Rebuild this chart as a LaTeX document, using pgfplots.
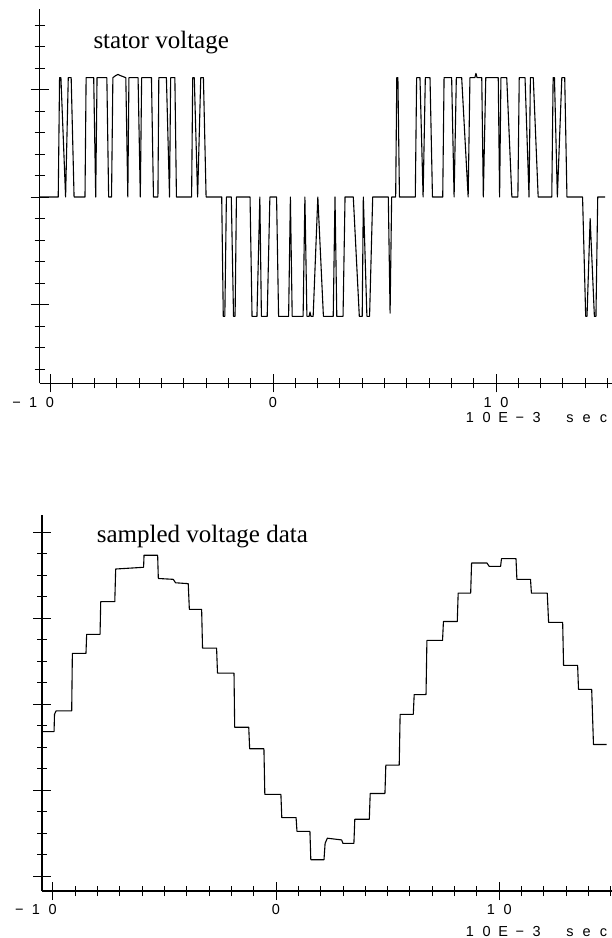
\documentclass[border=0pt]{standalone}
\usepackage{fontspec}
\setmainfont{Liberation Serif}
\newfontfamily\plotfont{Liberation Sans}
\usepackage{pgfplots}
\pgfplotsset{compat=1.18}
\newcommand\pc[1]{\makebox[16.7pt]{#1}}
\pgfplotsset{
  scopeplot/.style={
    scale only axis,
    axis x line=bottom, axis y line=left,
    axis line style={-, line width=1.3pt},
    tick align=center,
    major tick length=18pt,
    minor tick length=10pt,
    every tick/.style={line width=0.9pt, black},
    xtick={-10,0,10},
    xticklabels={\llap{\pc{−}\pc{1}}\pc{0}, \pc{0}, \pc{1}\pc{0}},
    minor xtick={-9,-8,...,15},
    xticklabel style={font=\fontsize{14.5}{14.5}\plotfont, anchor=center, inner sep=0pt, yshift=-9.7pt},
    yticklabels={},
    clip=false,
  },
  wave/.style={black, line width=1.1pt, sharp plot, line join=round},
}
\begin{document}
\begin{tikzpicture}
\useasboundingbox (0pt,0pt) rectangle (612pt,-938pt);
% ---------- top: stator voltage ----------
\begin{axis}[scopeplot,
  at={(39.5pt,-383.3pt)}, anchor=south west,
  width=572.5pt, height=374pt,
  xmin=-10.47, xmax=15.2, ymin=-1.733, ymax=1.746,
  ytick={-1,0,1},
  minor ytick={-1.6,-1.4,-1.2,-0.8,-0.6,-0.4,-0.2,0.2,0.4,0.6,0.8,1.2,1.4,1.6},
]
\addplot[wave] coordinates {
(-10.47,0) (-9.63,0) (-9.57,1.11) (-9.51,1.11) (-9.30,0) (-9.18,1.11) (-9.05,1.11) (-8.92,0)
(-8.43,0) (-8.38,1.11) (-8.04,1.11) (-7.95,0) (-7.89,1.11) (-7.45,1.11) (-7.37,0) (-7.24,0)
(-7.18,1.11) (-7.05,1.13) (-6.95,1.14) (-6.85,1.13) (-6.60,1.11) (-6.51,0) (-6.46,1.11)
(-6.05,1.11) (-5.95,0) (-5.89,1.11) (-5.45,1.11) (-5.36,0) (-5.16,0) (-5.12,1.11) (-4.78,1.11)
(-4.64,0) (-4.59,1.11) (-4.40,1.11) (-4.33,0) (-3.65,0) (-3.60,1.11) (-3.53,1.11) (-3.38,0)
(-3.24,1.11) (-3.12,1.11) (-3.00,0) (-2.30,0)
(-2.23,-1.11) (-2.16,-1.11) (-2.09,0) (-1.87,0) (-1.77,-1.11) (-1.70,-1.11) (-1.64,0) (-1.03,0)
(-0.94,-1.11) (-0.72,-1.11) (-0.59,0) (-0.52,-1.11) (-0.26,-1.11) (-0.14,0) (0.16,0)
(0.25,-1.11) (0.70,-1.11) (0.78,0) (0.86,-1.11) (1.35,-1.11) (1.43,0) (1.52,-1.11) (1.62,-1.11)
(1.66,-1.07) (1.70,-1.11) (1.80,-1.11) (2.01,0) (2.26,-1.11) (2.70,-1.11) (2.78,0) (2.86,-1.11)
(3.14,-1.11) (3.23,0) (3.60,0) (3.87,-1.11) (4.00,-1.11) (4.05,0) (4.21,-1.11) (4.33,-1.11)
(4.47,0) (5.17,0) (5.25,-1.08) (5.32,0) (5.50,0)
(5.55,1.11) (5.60,1.11) (5.67,0) (6.38,0) (6.44,1.11) (6.59,1.11) (6.73,0) (6.83,1.11)
(7.04,1.11) (7.15,0) (7.61,0) (7.67,1.11) (8.01,1.11) (8.12,0) (8.22,1.11) (8.46,1.11) (8.75,0)
(8.83,1.11) (9.05,1.11) (9.10,1.15) (9.15,1.11) (9.36,1.11) (9.43,0) (9.54,1.11) (10.10,1.11)
(10.16,0) (10.22,1.11) (10.48,1.11) (10.71,0) (10.98,0) (11.04,1.11) (11.30,1.11) (11.48,0)
(11.54,1.11) (11.67,1.11) (11.89,0) (12.50,0) (12.56,1.11) (12.62,1.11) (12.75,0) (12.95,1.11)
(13.08,1.11) (13.18,0) (13.88,0) (14.02,-1.11) (14.08,-1.11) (14.22,-0.2) (14.41,-1.11)
(14.48,-1.11) (14.56,0) (14.89,0)
};
\end{axis}
% ---------- bottom: sampled voltage data ----------
\begin{axis}[scopeplot,
  at={(42pt,-891pt)}, anchor=south west,
  width=570pt, height=376pt,
  xmin=-10.48, xmax=15.05, ymin=-2.174, ymax=2.198,
  ytick={-2,-1,0,1,2},
  minor ytick={-1.75,-1.5,-1.25,-0.75,-0.5,-0.25,0.25,0.5,0.75,1.25,1.5,1.75},
]
\addplot[wave] coordinates {
(-10.48,-0.32) (-9.94,-0.32) (-9.92,-0.12) (-9.85,-0.08) (-9.15,-0.08) (-9.12,0.59) (-8.51,0.59)
(-8.48,0.81) (-7.88,0.81) (-7.85,1.19) (-7.22,1.19) (-7.18,1.57) (-5.93,1.59) (-5.91,1.73)
(-5.30,1.73) (-5.27,1.46) (-4.60,1.45) (-4.50,1.41) (-3.93,1.40) (-3.88,1.10) (-3.33,1.10)
(-3.29,0.65) (-2.66,0.65) (-2.62,0.36) (-1.88,0.36) (-1.85,-0.27) (-1.22,-0.27) (-1.18,-0.52)
(-0.54,-0.52) (-0.50,-1.05) (0.22,-1.05) (0.26,-1.32) (0.90,-1.32) (0.94,-1.48) (1.52,-1.48)
(1.56,-1.81) (2.15,-1.81) (2.20,-1.62) (2.30,-1.56) (2.94,-1.58) (3.00,-1.62) (3.49,-1.62)
(3.53,-1.34) (4.18,-1.34) (4.22,-1.04) (4.88,-1.04) (4.92,-0.71) (5.52,-0.71) (5.56,-0.12)
(6.15,-0.12) (6.19,0.11) (6.72,0.11) (6.76,0.74) (7.46,0.74) (7.50,0.96) (8.12,0.96) (8.16,1.29)
(8.72,1.29) (8.76,1.64) (9.45,1.64) (9.55,1.60) (10.06,1.60) (10.10,1.69) (10.75,1.69)
(10.79,1.45) (11.40,1.45) (11.44,1.29) (12.15,1.29) (12.21,0.95) (12.84,0.95) (12.88,0.45)
(13.51,0.45) (13.55,0.17) (14.14,0.17) (14.22,-0.47) (14.81,-0.47)
};
\end{axis}
% ---------- texts ----------
\node[anchor=base west, inner sep=0pt, font=\fontsize{25}{25}\selectfont] at (93.3pt,-48.3pt) {stator voltage};
\node[anchor=base west, inner sep=0pt, font=\fontsize{25}{25}\selectfont] at (96.7pt,-542pt) {sampled voltage data};
\node[anchor=east, inner sep=0pt, font=\fontsize{14.5}{14.5}\plotfont] at (612pt,-418pt)
  {\pc{1}\pc{0}\pc{E}\pc{−}\pc{3}\pc{}\pc{s}\pc{e}\pc{c}};
\node[anchor=east, inner sep=0pt, font=\fontsize{14.5}{14.5}\plotfont] at (612pt,-931pt)
  {\pc{1}\pc{0}\pc{E}\pc{−}\pc{3}\pc{}\pc{s}\pc{e}\pc{c}};
\end{tikzpicture}
\end{document}
